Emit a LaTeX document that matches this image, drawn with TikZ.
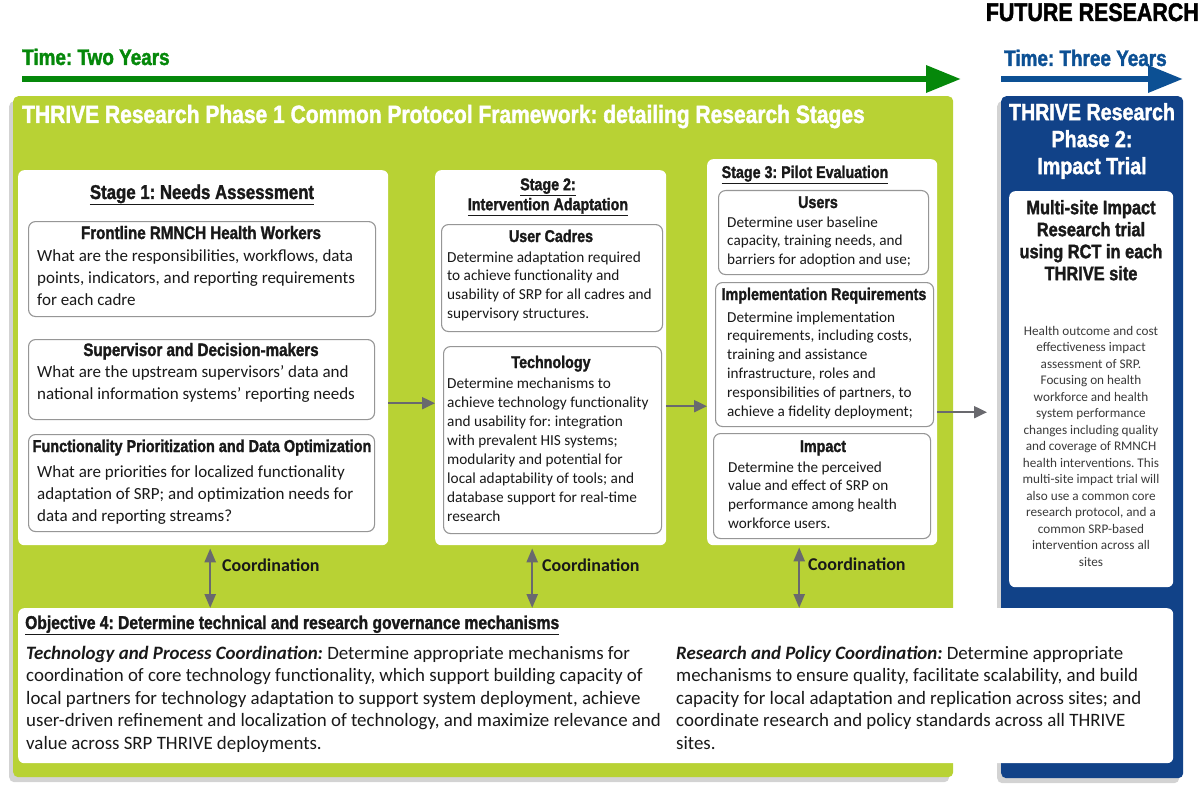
\documentclass[tikz,border=0pt]{standalone}
\usepackage{fontspec}
\setmainfont{Carlito}
\newfontfamily\cond[FakeStretch=0.84, BoldFeatures={FakeBold=1.6}]{Liberation Sans}
\usetikzlibrary{arrows.meta,shadows}
\definecolor{lime}{RGB}{184,210,52}
\definecolor{navy}{RGB}{17,66,136}
\definecolor{tgreen}{RGB}{5,136,10}
\definecolor{tblue}{RGB}{12,80,148}
\definecolor{agray}{RGB}{105,105,110}
\definecolor{bgray}{RGB}{150,150,150}
\definecolor{ink}{RGB}{25,25,25}
\newcommand{\cfb}[1]{\cond\bfseries\fontsize{#1}{#1}\selectfont}
\newcommand{\cfbb}[2]{\cond\bfseries\fontsize{#1}{#2}\selectfont}
\newcommand{\bfs}[2]{\fontsize{#1}{#2}\selectfont}
\frenchspacing
\begin{document}
\begin{tikzpicture}[x=1pt,y=-1pt,
  panel/.style={rounded corners=5pt, anchor=north west, inner sep=0pt,
    drop shadow={shadow xshift=-4pt,shadow yshift=-5pt,opacity=0.35}},
  stagebox/.style={fill=white, rounded corners=6pt, anchor=north west, inner sep=0pt},
  subbox/.style={fill=white, draw=bgray, line width=1.1pt, rounded corners=7pt, anchor=north west, inner sep=0pt},
  txt/.style={inner sep=0pt, anchor=north west, align=left, text=ink},
  ctxt/.style={inner sep=0pt, anchor=north, align=center},
  head/.style={inner sep=0pt, anchor=base, text=ink},
  garrow/.style={draw=agray, line width=2pt, -{Triangle[length=13pt,width=12pt]}},
  darrow/.style={draw=agray, line width=2.5pt, {Triangle[length=14pt,width=11pt]}-{Triangle[length=14pt,width=11pt]}},
  bigarrow/.style={draw=#1, line width=6.5pt, -{Triangle[length=35pt,width=26pt]}},
  coord/.style={inner sep=0pt, anchor=base west, font=\bfseries\bfs{18}{20}, text=ink}
]
\useasboundingbox (0,0) rectangle (1200,797);

% header
\node[inner sep=0pt, anchor=base east, font=\cfb{25.5}, text=black] (future) at (1199,21) {FUTURE RESEARCH};
\node[inner sep=0pt, anchor=base west, font=\cfb{22.5}, text=tgreen] (ttwo) at (22,65) {Time: Two Years};
\node[inner sep=0pt, anchor=base west, font=\cfb{22.5}, text=tblue] (tthree) at (1004,66) {Time: Three Years};
\coordinate (ga0) at (22,79);
\coordinate (ga1) at (961,79);
\coordinate (ba0) at (1001,79);
\coordinate (ba1) at (1183,79);
\draw[bigarrow=tgreen] (ga0) -- (ga1);
\draw[bigarrow=tblue] (ba0) -- (ba1);

% panels
\node[panel, fill=lime, minimum width=940pt, minimum height=681pt] (green) at (13,96) {};
\node[panel, fill=navy, minimum width=182pt, minimum height=682pt] (blue) at (1001,96) {};

\node[inner sep=0pt, anchor=base west, font=\cfb{25}, text=white] (gtitle) at (22,123)
  {THRIVE Research Phase 1 Common Protocol Framework: detailing Research Stages};
\node[ctxt, font=\cfbb{23.4}{27}, text=white] (btitle) at (1092,101)
  {\strut THRIVE Research\\Phase 2:\\Impact Trial};

% stage 1
\node[stagebox, minimum width=370pt, minimum height=375pt] (s1) at (18,170) {};
\node[head, font=\cfb{20}] (s1t) at (202,199) {\underline{Stage 1: Needs Assessment}};
\node[subbox, minimum width=347pt, minimum height=95pt] (b11) at (28,221) {};
\node[head, font=\cfb{18}] (b11h) at (201,239) {Frontline RMNCH Health Workers};
\node[txt, font=\bfs{17}{22}] (b11t) at (37,245.6) {\strut What are the responsibilities, workflows, data\\points, indicators, and reporting requirements\\for each cadre};
\node[subbox, minimum width=346pt, minimum height=80pt] (b12) at (28,339) {};
\node[head, font=\cfb{18}] (b12h) at (201,356) {Supervisor and Decision-makers};
\node[txt, font=\bfs{17}{22}] (b12t) at (37,361.6) {\strut What are the upstream supervisors' data and\\national information systems' reporting needs};
\node[subbox, minimum width=346pt, minimum height=97pt] (b13) at (28,434) {};
\node[head, font=\cfb{17.2}] (b13h) at (202,452) {Functionality Prioritization and Data Optimization};
\node[txt, font=\bfs{17}{22}] (b13t) at (37,461.6) {\strut What are priorities for localized functionality\\adaptation of SRP; and optimization needs for\\data and reporting streams?};

% stage 2
\node[stagebox, minimum width=231pt, minimum height=375pt] (s2) at (435,170) {};
\node[ctxt, font=\cfbb{17}{20}, text=ink] (s2t) at (548,176) {\strut\underline{Stage 2:}\\\underline{Intervention Adaptation}};
\node[subbox, minimum width=221pt, minimum height=107pt] (b21) at (441,224) {};
\node[head, font=\cfb{17}] (b21h) at (551,242) {User Cadres};
\node[txt, font=\bfs{15.3}{18.8}] (b21t) at (447,248.8) {\strut Determine adaptation required\\to achieve functionality and\\usability of SRP for all cadres and\\supervisory structures.};
\node[subbox, minimum width=218pt, minimum height=187pt] (b22) at (443,346) {};
\node[head, font=\cfb{17}] (b22h) at (551,368) {Technology};
\node[txt, font=\bfs{15.3}{19}] (b22t) at (447,374.7) {\strut Determine mechanisms to\\achieve technology functionality\\and usability for: integration\\with prevalent HIS systems;\\modularity and potential for\\local adaptability of tools; and\\database support for real-time\\research};

% stage 3
\node[stagebox, minimum width=230pt, minimum height=386pt] (s3) at (707,159) {};
\node[head, font=\cfb{17}] (s3t) at (805,178) {\underline{Stage 3: Pilot Evaluation}};
\node[subbox, minimum width=210pt, minimum height=84pt] (b31) at (718,190) {};
\node[head, font=\cfb{17}] (b31h) at (818,208) {Users};
\node[txt, font=\bfs{15.2}{18.8}] (b31t) at (727,213.8) {\strut Determine user baseline\\capacity, training needs, and\\barriers for adoption and use;};
\node[subbox, minimum width=218pt, minimum height=144pt] (b32) at (715,282) {};
\node[head, font=\cfb{17}] (b32h) at (824,300) {Implementation Requirements};
\node[txt, font=\bfs{15.2}{18.8}] (b32t) at (727,308.8) {\strut Determine implementation\\requirements, including costs,\\training and assistance\\infrastructure, roles and\\responsibilities of partners, to\\achieve a fidelity deployment;};
\node[subbox, minimum width=217pt, minimum height=105pt] (b33) at (713,433) {};
\node[head, font=\cfb{17}] (b33h) at (823,452) {Impact};
\node[txt, font=\bfs{15.2}{18.8}] (b33t) at (728,458.8) {\strut Determine the perceived\\value and effect of SRP on\\performance among health\\workforce users.};

% phase 2 inner
\node[stagebox, minimum width=164pt, minimum height=396pt] (p2) at (1009,191) {};
\node[ctxt, font=\cfbb{19.5}{22}, text=ink] (p2h) at (1091,198.6) {\strut Multi-site Impact\\Research trial\\using RCT in each\\THRIVE site};
\node[ctxt, font=\bfs{13.2}{16.5}, text=ink!85] (p2t) at (1091,323.5) {\strut Health outcome and cost\\effectiveness impact\\assessment of SRP.\\Focusing on health\\workforce and health\\system performance\\changes including quality\\and coverage of RMNCH\\health interventions. This\\multi-site impact trial will\\also use a common core\\research protocol, and a\\common SRP-based\\intervention across all\\sites};

% objective box
\node[stagebox, minimum width=1155pt, minimum height=155pt] (obj) at (18,608) {};
\node[inner sep=0pt, anchor=base west, font=\cfb{18.6}, text=ink] (objh) at (25,629) {\underline{Objective 4: Determine technical and research governance mechanisms}};
\node[txt, font=\bfs{18.9}{22.5}] (objl) at (26,643.3) {\strut\textbf{\textit{Technology and Process Coordination:}} Determine appropriate mechanisms for\\coordination of core technology functionality, which support building capacity of\\local partners for technology adaptation to support system deployment, achieve\\user-driven refinement and localization of technology, and maximize relevance and\\value across SRP THRIVE deployments.};
\node[txt, font=\bfs{18.9}{22.5}] (objr) at (676,643.3) {\strut\textbf{\textit{Research and Policy Coordination:}} Determine appropriate\\mechanisms to ensure quality, facilitate scalability, and build\\capacity for local adaptation and replication across sites; and\\coordinate research and policy standards across all THRIVE\\sites.};

% connectors between stages
\draw[garrow] ([yshift=-45.5pt]s1.east) -- ([yshift=-45.5pt]s2.west);
\draw[garrow] ([yshift=-48.5pt]s2.east) -- ([yshift=-48.5pt]s2.east -| s3.west);
\draw[garrow, shorten >=14pt] ([yshift=-60pt]s3.east) -- ([yshift=-60pt]s3.east -| blue.west);

% coordination arrows
\draw[darrow, shorten <=3pt] ([xshift=7pt]s1.south) -- ([xshift=7pt]s1.south |- obj.north);
\draw[darrow, shorten <=3pt] ([xshift=-18.5pt]s2.south) -- ([xshift=-18.5pt]s2.south |- obj.north);
\draw[darrow, shorten <=2pt] ([xshift=-23pt]s3.south) -- ([xshift=-23pt]s3.south |- obj.north);
\node[coord] (c1) at (222,571) {Coordination};
\node[coord] (c2) at (542,571) {Coordination};
\node[coord] (c3) at (808,570) {Coordination};
\end{tikzpicture}
\end{document}
